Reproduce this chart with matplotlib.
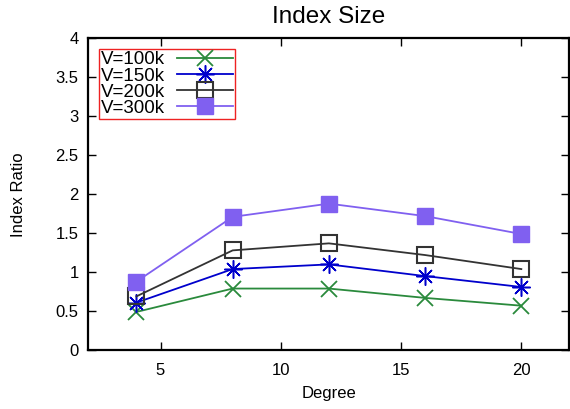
import matplotlib
matplotlib.use("Agg")
import matplotlib.pyplot as plt

plt.rcParams['font.family'] = ['Liberation Sans', 'DejaVu Sans']

# index ratio per degree, one series per vertex count
degree = [4, 8, 12, 16, 20]
v100k = [0.49, 0.79, 0.79, 0.67, 0.57]
v150k = [0.61, 1.04, 1.10, 0.95, 0.81]
v200k = [0.69, 1.28, 1.37, 1.22, 1.04]
v300k = [0.88, 1.71, 1.88, 1.72, 1.49]

labels = ['V=100k', 'V=150k', 'V=200k', 'V=300k']
xticks = [5, 10, 15, 20]
yticks = [0, 0.5, 1, 1.5, 2, 2.5, 3, 3.5, 4]
ytick_labels = ['0', '0.5', '1', '1.5', '2', '2.5', '3', '3.5', '4']

fig = plt.figure(figsize=(5.7, 4.09), dpi=100)
ax = fig.add_axes([0.155, 0.144, 0.844, 0.762])

ax.plot(degree, v100k, color='#2a8a3c', lw=1.3, marker='x', ms=11,
        mew=1.3, label=labels[0])
ax.plot(degree, v150k, color='#0000cc', lw=1.3, marker=(8, 2, 0), ms=13,
        mew=1.1, label=labels[1])
ax.plot(degree, v200k, color='#333333', lw=1.3, marker='s', ms=11,
        mfc='none', mew=1.5, label=labels[2])
ax.plot(degree, v300k, color='#8060f0', lw=1.3, marker='s', ms=11,
        mec='#8060f0', mfc='#8060f0', label=labels[3])

ax.set_xlim(2, 22)
ax.set_ylim(0, 4)
ax.set_xticks(xticks)
ax.set_yticks(yticks)
ax.set_yticklabels(ytick_labels)
ax.tick_params(direction='in', length=6, width=1, top=True, right=True,
               labelsize=12, pad=7)
ax.tick_params(axis='x', pad=9)
for s in ax.spines.values():
    s.set_linewidth(1.6)

ax.set_title('Index Size', fontsize=17.5, pad=11)
ax.set_xlabel('Degree', fontsize=12, labelpad=6)
ax.set_ylabel('Index Ratio', fontsize=12, labelpad=21)

leg = ax.legend(loc='upper left', bbox_to_anchor=(0.022, 0.966),
                borderaxespad=0, markerfirst=False, fontsize=13.5,
                labelspacing=-0.05, handlelength=3.0, handletextpad=0.6,
                borderpad=0.12, fancybox=False, framealpha=1)
leg.get_frame().set_edgecolor('#ee2222')
leg.get_frame().set_linewidth(1)

fig.savefig('out.png', dpi=100)
